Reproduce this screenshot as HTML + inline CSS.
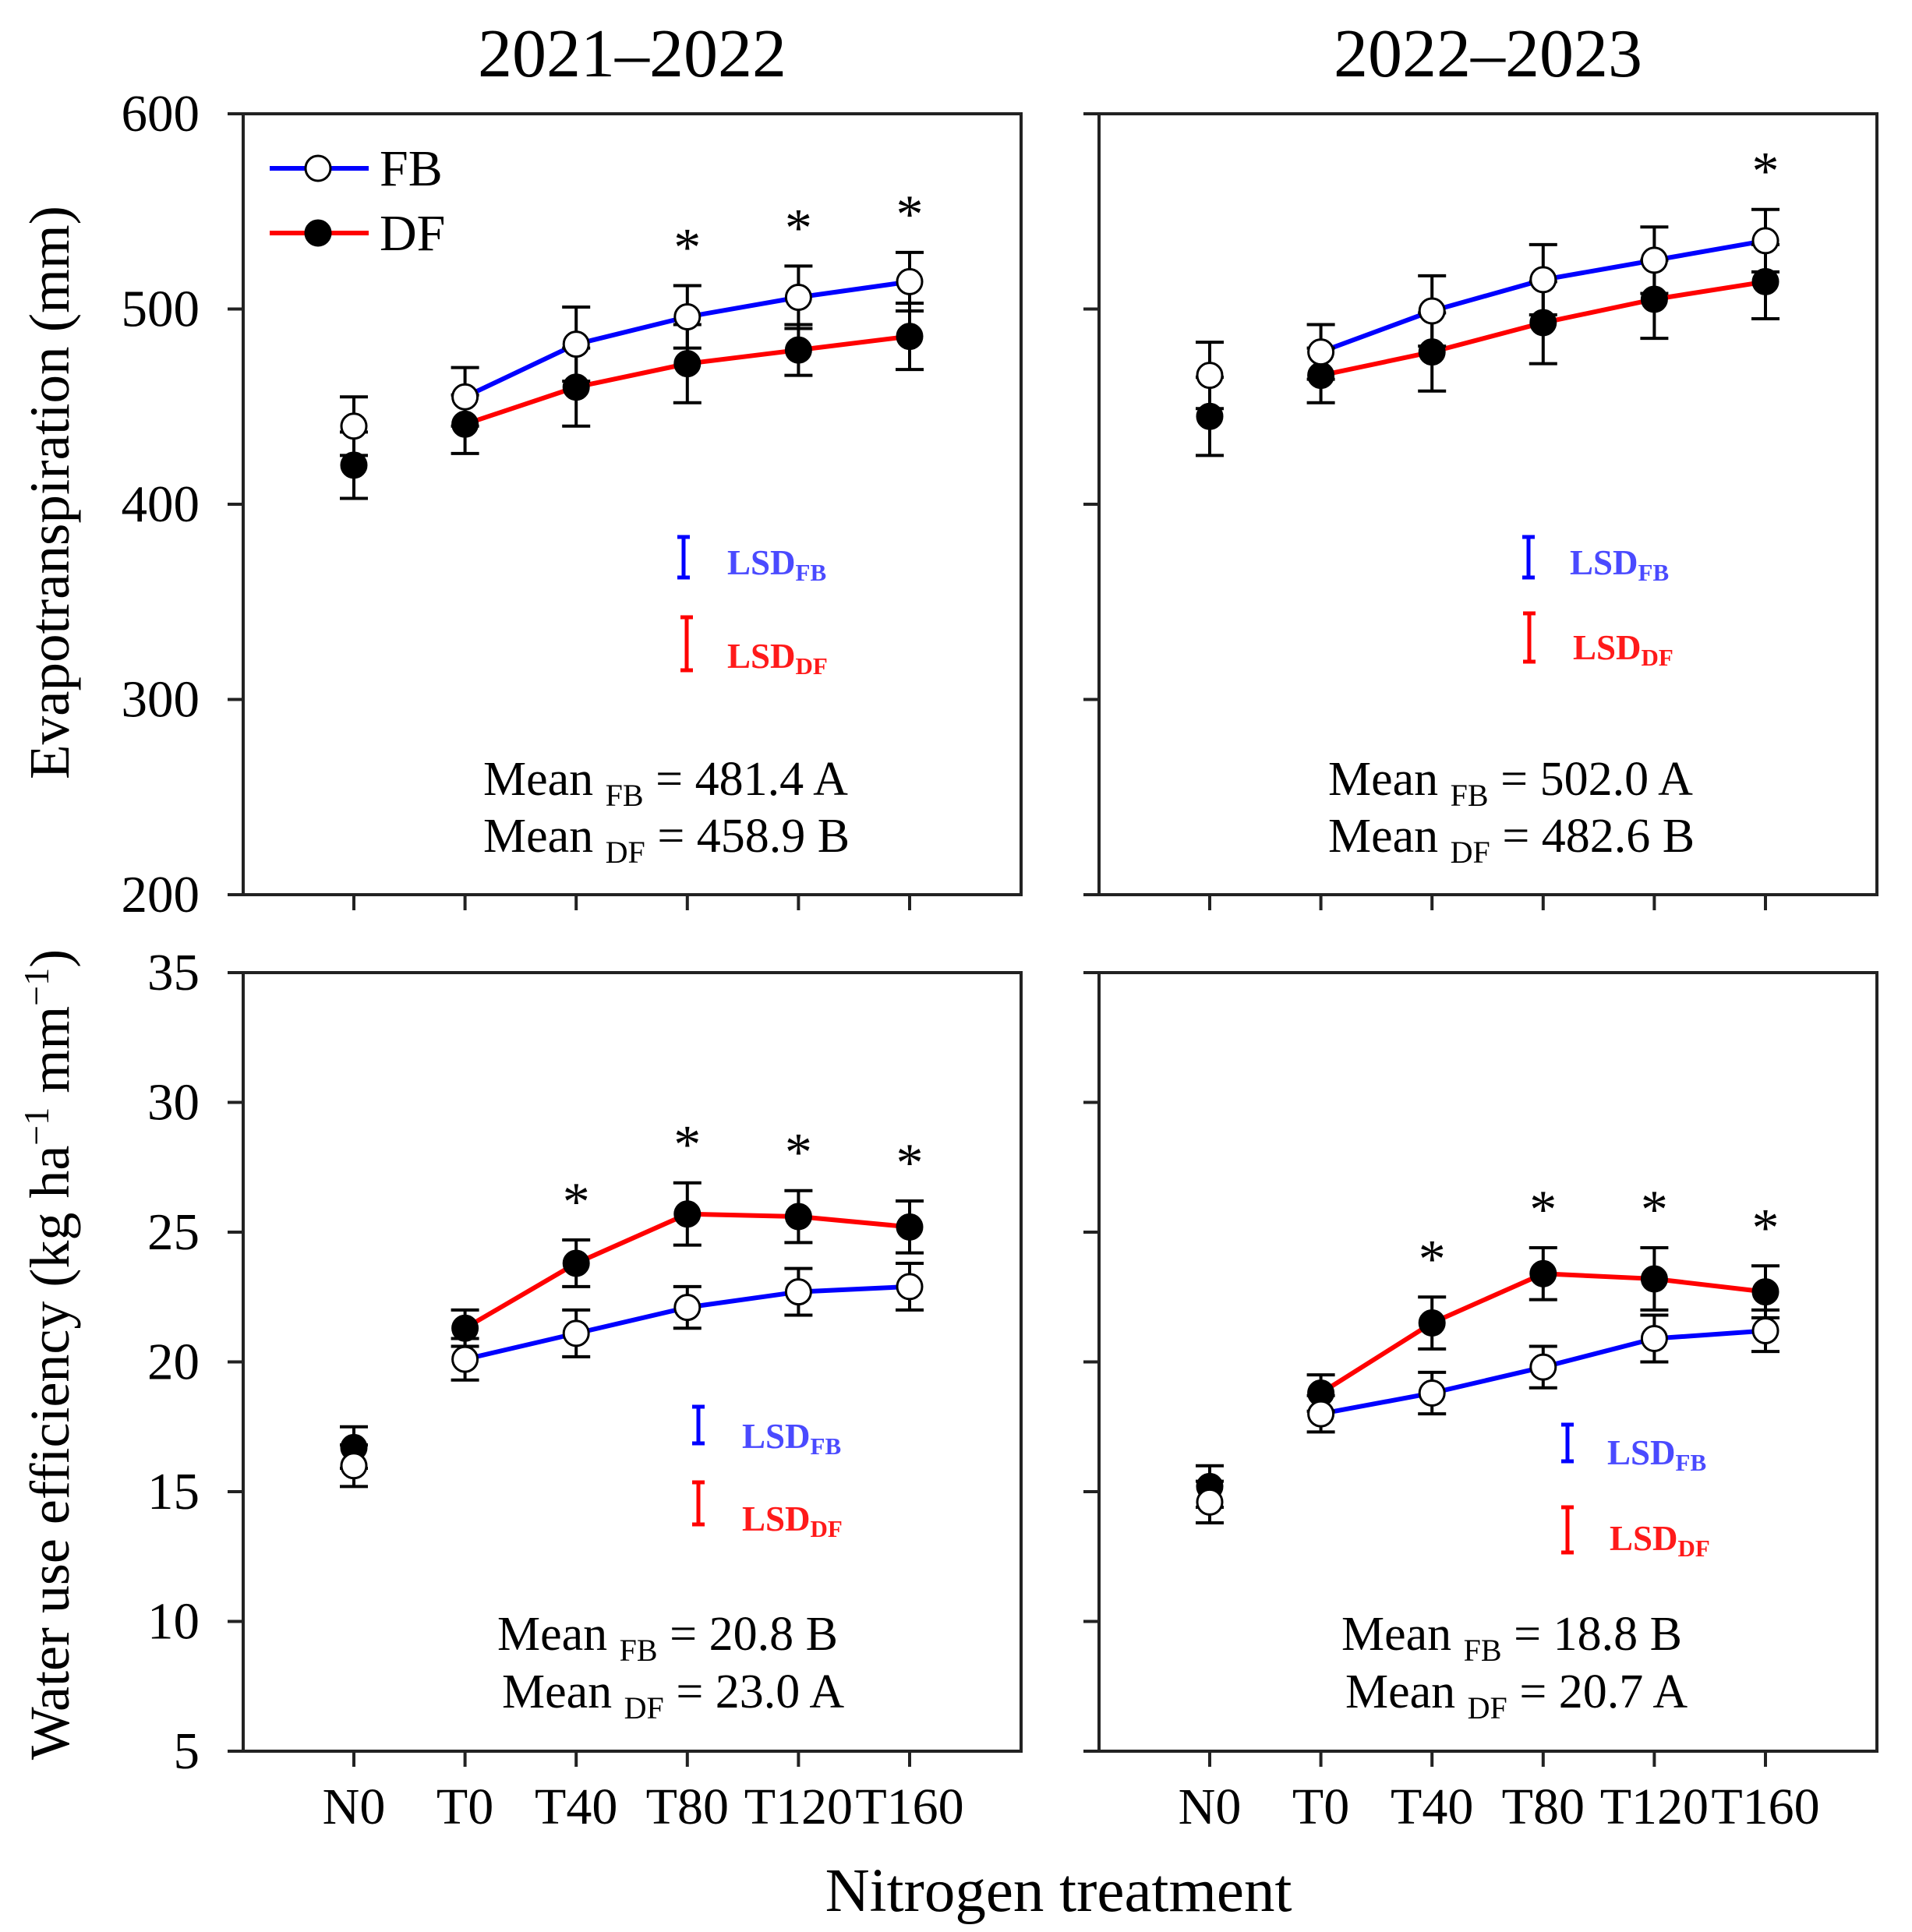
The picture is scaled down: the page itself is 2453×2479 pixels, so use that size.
<!DOCTYPE html>
<html><head><meta charset="utf-8"><style>
html,body{margin:0;padding:0;background:#fff;}
svg{display:block;font-family:"Liberation Serif",serif;}
</style></head><body>
<svg id="chart" xmlns="http://www.w3.org/2000/svg" width="2453" height="2479" viewBox="0 0 2453 2479"></svg>
<script>
const categories = ["N0","T0","T40","T80","T120","T160"];
const et21FB = [440,455,482,496,506,514];
const et21FBerr = [15,15,19,16,16,15];
const et21DF = [420,441,460,472,479,486];
const et21DFerr = [17,15,20,20,13,17];
const et22FB = [466,478,499,515,525,535];
const et22FBerr = [17,14,18,18,17,16];
const et22DF = [445,466,478,493,505,514];
const et22DFerr = [20,14,20,21,20,19];
const wue21FB = [16.0,20.1,21.1,22.1,22.7,22.9];
const wue21FBerr = [0.8,0.8,0.9,0.8,0.9,0.9];
const wue21DF = [16.7,21.3,23.8,25.7,25.6,25.2];
const wue21DFerr = [0.8,0.7,0.9,1.2,1.0,1.0];
const wue22FB = [14.6,18.0,18.8,19.8,20.9,21.2];
const wue22FBerr = [0.8,0.7,0.8,0.8,0.9,0.8];
const wue22DF = [15.2,18.8,21.5,23.4,23.2,22.7];
const wue22DFerr = [0.8,0.7,1.0,1.0,1.2,1.0];
const et21Stars = [3,4,5];
const et22Stars = [5];
const wue21Stars = [2,3,4,5];
const wue22Stars = [2,3,4,5];
const etTicks = [200,300,400,500,600];
const wueTicks = [5,10,15,20,25,30,35];

const NS = "http://www.w3.org/2000/svg";
const svg = document.getElementById("chart");
function mk(tag, attrs, parent){
  const e = document.createElementNS(NS, tag);
  for (const k in attrs) e.setAttribute(k, attrs[k]);
  (parent||svg).appendChild(e);
  return e;
}
function txt(str, x, y, size, parent, extra){
  const t = mk("text", Object.assign({x:x, y:y, "font-size":size, fill:"#000"}, extra||{}), parent);
  t.textContent = str;
  return t;
}

function panel(cfg){
  const g = mk("g", {});
  
  
  const L = cfg.left, R = cfg.left + 998, T = cfg.top, B = cfg.bottom;
  const xStart = cfg.left + 142, xStep = 142.6;
  const xScale = i => xStart + i * xStep;
  const yScale = v => B - (v - cfg.ymin) / (cfg.ymax - cfg.ymin) * (B - T);
  const frame = mk("rect", {x:L, y:T, width:R-L, height:B-T, fill:"none", stroke:"#222", "stroke-width":4}, g);
  
  
  cfg.ticks.forEach(v => {
    const y = yScale(v);
    const tk = mk("line", {x1:L-20, x2:L, y1:y, y2:y, stroke:"#222", "stroke-width":4}, g);
    
    
    if (cfg.showYLabels){
      const lb = txt(String(v), L-56, y+22, 67, g, {"text-anchor":"end"});
      
      
    }
  });
  categories.forEach((c,i) => {
    const x = xScale(i);
    const tk = mk("line", {x1:x, x2:x, y1:B, y2:B+20, stroke:"#222", "stroke-width":4}, g);
    
    
    if (cfg.showXLabels){
      const lb = txt(c, x, B+93, 66, g, {"text-anchor":"middle"});
      
      
    }
  });
  [[cfg.fb,"#0000ff","fb-line"],[cfg.df,"#ff0000","df-line"]].forEach(([vals,col,nm]) => {
    let d = "";
    for (let i=1;i<vals.length;i++) d += (i===1?"M":"L") + xScale(i) + "," + yScale(vals[i]);
    const p = mk("path", {d:d, fill:"none", stroke:col, "stroke-width":6}, g);
    
    
  });
  [[cfg.df,cfg.dfErr,"df"],[cfg.fb,cfg.fbErr,"fb"]].forEach(([vals,errs,nm]) => {
    vals.forEach((v,i) => {
      const x = xScale(i), y0 = yScale(v+errs[i]), y1 = yScale(v-errs[i]);
      const eb = mk("path", {d:`M${x},${y0}V${y1}M${x-18},${y0}H${x+18}M${x-18},${y1}H${x+18}`, stroke:"#000", "stroke-width":4, fill:"none"}, g);
      
      
    });
  });
  [[cfg.df,"#000","df"],[cfg.fb,"#fff","fb"]].forEach(([vals,fill,nm]) => {
    vals.forEach((v,i) => {
      const c = mk("circle", {cx:xScale(i), cy:yScale(v), r:16, fill:fill, stroke:"#000", "stroke-width":3}, g);
      
      
    });
  });
  cfg.stars.forEach(i => {
    const top = Math.min(yScale(cfg.fb[i]+cfg.fbErr[i]), yScale(cfg.df[i]+cfg.dfErr[i]));
    const s = txt("*", xScale(i), top-26, 70, g, {"text-anchor":"middle"});
    
    
  });
  const lsd = cfg.lsd;
  [[lsd.fb,"#0000ff","#4a4aff","FB","lsd-fb"],[lsd.df,"#ff0000","#ff1a1a","DF","lsd-df"]].forEach(([o,col,tcol,sub,nm]) => {
    const b = mk("path", {d:`M${o.x},${o.y0}V${o.y1}M${o.x-8},${o.y0}H${o.x+8}M${o.x-8},${o.y1}H${o.x+8}`, stroke:col, "stroke-width":5, fill:"none"}, g);
    
    
    const t = mk("text", {x:o.tx, y:o.ty, "font-size":45, "font-weight":"bold", fill:tcol}, g);
    
    
    t.innerHTML = `LSD<tspan font-size="31" dy="8">${sub}</tspan>`;
  });
  cfg.means.forEach(m => {
    const t = mk("text", {x:m.x, y:m.y, "font-size":62, fill:"#000"}, g);
    
    
    t.innerHTML = `Mean <tspan font-size="40" dy="14">${m.sub}</tspan><tspan dy="-14"> = ${m.val}</tspan>`;
  });
}

panel({name:"et-2021-panel", left:312, top:146, bottom:1148, ymin:200, ymax:600, ticks:etTicks, showYLabels:true, showXLabels:false,
  fb:et21FB, fbErr:et21FBerr, df:et21DF, dfErr:et21DFerr, stars:et21Stars,
  lsd:{fb:{x:877,y0:689,y1:741,tx:933,ty:737}, df:{x:881,y0:792,y1:860,tx:933,ty:857}},
  means:[{x:620,y:1020,sub:"FB",val:"481.4 A"},{x:620,y:1093,sub:"DF",val:"458.9 B"}]});
panel({name:"et-2022-panel", left:1410, top:146, bottom:1148, ymin:200, ymax:600, ticks:etTicks, showYLabels:false, showXLabels:false,
  fb:et22FB, fbErr:et22FBerr, df:et22DF, dfErr:et22DFerr, stars:et22Stars,
  lsd:{fb:{x:1961,y0:689,y1:741,tx:2014,ty:737}, df:{x:1962,y0:787,y1:849,tx:2018,ty:846}},
  means:[{x:1704,y:1020,sub:"FB",val:"502.0 A"},{x:1704,y:1093,sub:"DF",val:"482.6 B"}]});
panel({name:"wue-2021-panel", left:312, top:1248, bottom:2247, ymin:5, ymax:35, ticks:wueTicks, showYLabels:true, showXLabels:true,
  fb:wue21FB, fbErr:wue21FBerr, df:wue21DF, dfErr:wue21DFerr, stars:wue21Stars,
  lsd:{fb:{x:896,y0:1805,y1:1852,tx:952,ty:1858}, df:{x:896,y0:1902,y1:1956,tx:952,ty:1964}},
  means:[{x:638,y:2117,sub:"FB",val:"20.8 B"},{x:644,y:2191,sub:"DF",val:"23.0 A"}]});
panel({name:"wue-2022-panel", left:1410, top:1248, bottom:2247, ymin:5, ymax:35, ticks:wueTicks, showYLabels:false, showXLabels:true,
  fb:wue22FB, fbErr:wue22FBerr, df:wue22DF, dfErr:wue22DFerr, stars:wue22Stars,
  lsd:{fb:{x:2011,y0:1828,y1:1875,tx:2062,ty:1879}, df:{x:2011,y0:1934,y1:1992,tx:2065,ty:1989}},
  means:[{x:1721,y:2117,sub:"FB",val:"18.8 B"},{x:1726,y:2191,sub:"DF",val:"20.7 A"}]});

let t;
t = txt("2021–2022", 811, 98, 88, svg, {"text-anchor":"middle"});


t = txt("2022–2023", 1909, 98, 88, svg, {"text-anchor":"middle"});


t = txt("Evapotranspiration (mm)", 0, 0, 73, svg, {"text-anchor":"middle", transform:"translate(88,632) rotate(-90)"});


t = mk("text", {x:0, y:0, "font-size":72, "text-anchor":"middle", transform:"translate(88,1738) rotate(-90)"});
t.innerHTML = 'Water use efficiency (kg ha<tspan font-size="46" dy="-26">−1</tspan><tspan dy="26"> mm</tspan><tspan font-size="46" dy="-26">−1</tspan><tspan dy="26">)</tspan>';


t = txt("Nitrogen treatment", 1358, 2452, 79, svg, {"text-anchor":"middle"});



const lg = mk("g", {});


[["FB","#0000ff","#fff",216],["DF","#ff0000","#000",299]].forEach(([lab,col,fill,y]) => {
  const e = mk("g", {}, lg);
  
  
  mk("line", {x1:346, x2:473, y1:y, y2:y, stroke:col, "stroke-width":6}, e);
  mk("circle", {cx:408, cy:y, r:16, fill:fill, stroke:"#000", "stroke-width":3}, e);
  txt(lab, 487, y+22, 66, e);
});
</script>
</body></html>
